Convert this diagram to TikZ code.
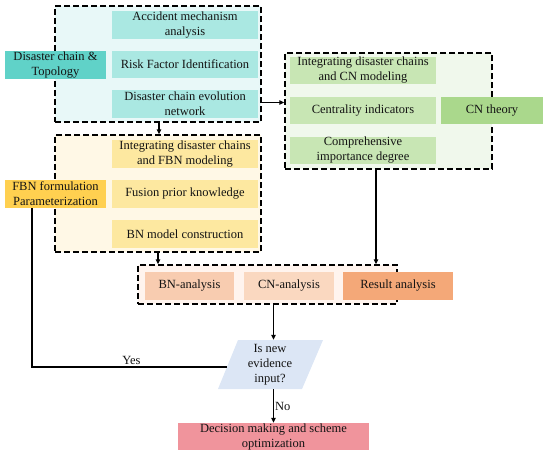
\documentclass[tikz,border=0pt]{standalone}
\usepackage{fontspec}
\setmainfont{Liberation Serif}
\usetikzlibrary{arrows.meta,calc}
\definecolor{txt}{RGB}{20,20,20}
\definecolor{cyI}{RGB}{170,232,226}
\definecolor{cyD}{RGB}{96,210,200}
\definecolor{cyB}{RGB}{232,248,248}
\definecolor{ylI}{RGB}{253,232,160}
\definecolor{ylD}{RGB}{255,208,80}
\definecolor{ylB}{RGB}{255,248,230}
\definecolor{grI}{RGB}{200,230,180}
\definecolor{grD}{RGB}{170,216,140}
\definecolor{grB}{RGB}{240,248,236}
\definecolor{orA}{RGB}{248,204,176}
\definecolor{orB}{RGB}{250,216,192}
\definecolor{orD}{RGB}{244,168,120}
\definecolor{orG}{RGB}{255,244,238}
\definecolor{qcol}{RGB}{220,230,245}
\definecolor{deccol}{RGB}{240,148,156}
\begin{document}
\begin{tikzpicture}[x=1pt,y=-1pt,
  lbl/.style={font=\fontsize{12.5}{15}\selectfont, text=txt, align=center, inner sep=0pt},
  grp/.style={draw=black, dash pattern=on 6pt off 3pt, line width=1.5pt, inner sep=0pt},
  conn/.style={line width=1.2pt, -{Triangle[length=5pt,width=4.5pt]}},
  plain/.style={line width=1.2pt}]
\useasboundingbox (0,0) rectangle (550,456);
% group backgrounds
\node[grp, fill=cyB, minimum width=206, minimum height=116] (bg1) at (158,64) {};
\node[grp, fill=ylB, minimum width=206, minimum height=117] (bg2) at (158,193.5) {};
\node[grp, fill=grB, minimum width=207, minimum height=116] (bg3) at (388.5,111) {};
\node[grp, fill=orG, minimum width=259, minimum height=39] (bg4) at (267.5,284.5) {};
% cyan group
\node[lbl, fill=cyI, minimum width=146, minimum height=28] (acc) at (185,25) {Accident mechanism\\analysis};
\node[lbl, fill=cyI, minimum width=146, minimum height=27] (risk) at (185,64.5) {Risk Factor Identification};
\node[lbl, fill=cyI, minimum width=146, minimum height=28] (evo) at (185,104) {Disaster chain evolution\\network};
\node[lbl, fill=cyD, minimum width=101, minimum height=28] (topo) at (55.5,65) {Disaster chain \&\\Topology};
% yellow group
\node[lbl, fill=ylI, minimum width=146, minimum height=28] (fbnint) at (185,154) {Integrating disaster chains\\and FBN modeling};
\node[lbl, fill=ylI, minimum width=146, minimum height=28] (fusion) at (185,194) {Fusion prior knowledge};
\node[lbl, fill=ylI, minimum width=146, minimum height=28] (bnc) at (185,234) {BN model construction};
\node[lbl, fill=ylD, minimum width=101, minimum height=28] (fbnf) at (55.5,194) {FBN formulation\\Parameterization};
% green group
\node[lbl, fill=grI, minimum width=146, minimum height=27] (cnint) at (363,70.5) {Integrating disaster chains\\and CN modeling};
\node[lbl, fill=grI, minimum width=146, minimum height=27] (cent) at (363,110.5) {Centrality indicators};
\node[lbl, fill=grI, minimum width=146, minimum height=27] (comp) at (363,150.5) {Comprehensive\\importance degree};
\node[lbl, fill=grD, minimum width=102, minimum height=27] (cnth) at (492,110.5) {CN theory};
% orange group
\node[lbl, fill=orA, minimum width=89, minimum height=28] (bna) at (189.5,286) {BN-analysis};
\node[lbl, fill=orB, minimum width=90, minimum height=28] (cna) at (289,286) {CN-analysis};
\node[lbl, fill=orD, minimum width=110, minimum height=28] (res) at (398,286) {Result analysis};
% decision
\fill[qcol] (238,340) -- (323,340) -- (302,389) -- (218,389) -- cycle;
\node[lbl, minimum width=86, minimum height=49] (q) at (270,364.5) {Is new\\evidence\\input?};
\node[lbl, fill=deccol, minimum width=191, minimum height=27] (dec) at (273.5,436.5) {Decision making and scheme\\optimization};
% connectors
\coordinate (c1) at (159,0);
\coordinate (c2) at (0,102.5);
\coordinate (c3) at (376,0);
\coordinate (c4) at (158,0);
\coordinate (yb) at (32,367);
\draw[conn] (bg1.south -| c1) -- (bg2.north -| c1);
\draw[conn] (bg1.east |- c2) -- (bg3.west |- c2);
\draw[conn] (bg3.south -| c3) -- (bg4.north -| c3);
\draw[conn] (bg2.south -| c4) -- (bg4.north -| c4);
\draw[conn] (bg4.south -| dec.north) -- (q.north -| dec.north);
\draw[conn] (q.south -| dec.north) -- node[lbl, right=1pt, pos=0.5] (no) {No} (dec.north);
\draw[plain] (fbnf.south -| yb) -- (yb) -- node[lbl, above=2pt, pos=0.51] (yes) {Yes} (yb -| q.west);
\end{tikzpicture}
\end{document}
